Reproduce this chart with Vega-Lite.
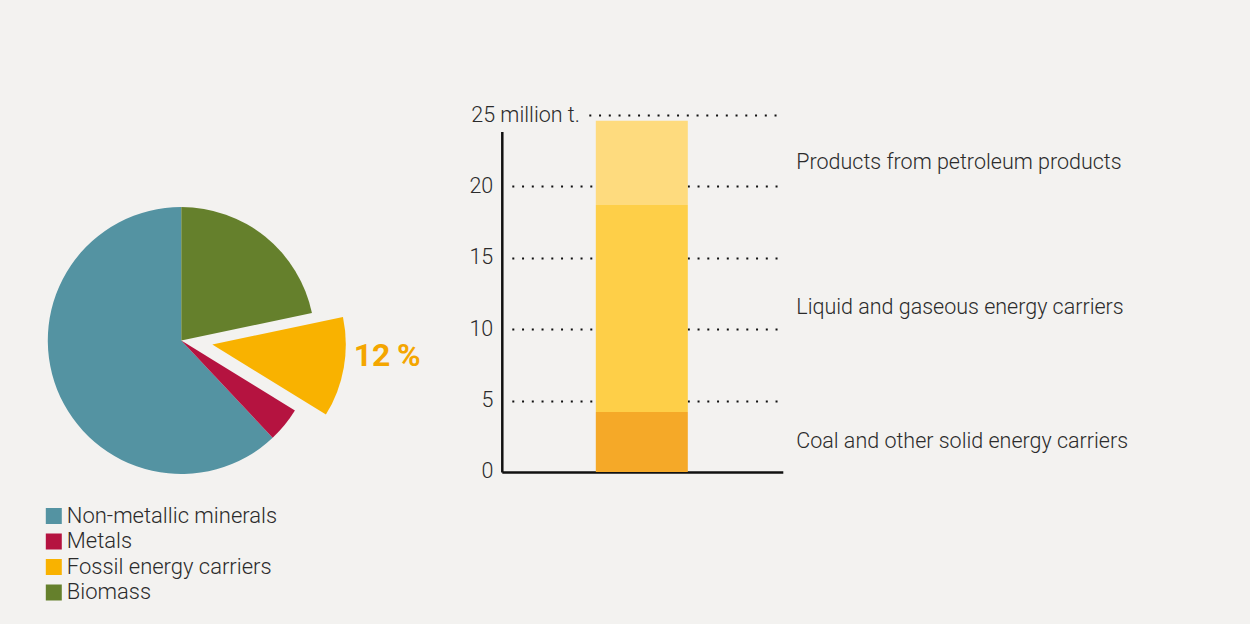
{
  "$schema": "https://vega.github.io/schema/vega-lite/v6.json",
  "background": "#f3f2f0",
  "padding": {"left": 17.8, "top": 104, "right": 0, "bottom": 26},
  "bounds": "flush",
  "spacing": 180,
  "config": {"view": {"stroke": null}, "font": "Roboto"},
  "resolve": {"scale": {"color": "independent"}, "legend": {"color": "independent"}},
  "hconcat": [
    {
      "width": 281,
      "height": 451,
      "data": {"values": [
        {"category": "Non-metallic minerals", "share": 62.0},
        {"category": "Metals", "share": 4.2},
        {"category": "Fossil energy carriers", "share": 12.1},
        {"category": "Biomass", "share": 21.7}
      ]},
      "encoding": {
        "theta": {"field": "share", "type": "quantitative", "stack": true},
        "order": {"field": "category", "type": "nominal", "sort": "ascending"}
      },
      "layer": [
        {
          "mark": {"type": "arc", "radius": 133.5},
          "encoding": {
            "color": {
              "field": "category", "type": "nominal",
              "scale": {"domain": ["Non-metallic minerals", "Metals", "Fossil energy carriers", "Biomass"], "range": ["#5493a2", "#b51340", "#f9b200", "#65802c"]},
              "legend": {"title": null, "orient": "none", "legendX": 2, "legendY": 390, "direction": "vertical", "symbolType": "square", "symbolSize": 256, "symbolStrokeWidth": 0, "labelFontSize": 22, "labelFont": "Roboto", "labelFontWeight": 300, "labelColor": "#2b2b2b", "labelOffset": 2, "rowPadding": 3.5, "padding": 0, "labelLimit": 400}
            },
            "opacity": {"condition": {"test": "datum.category === 'Fossil energy carriers'", "value": 0}, "value": 1}
          }
        },
        {
          "mark": {"type": "arc", "radius": 133.5, "xOffset": 31, "yOffset": 4},
          "encoding": {
            "color": {"field": "category", "type": "nominal"},
            "opacity": {"condition": {"test": "datum.category === 'Fossil energy carriers'", "value": 1}, "value": 0}
          }
        },
        {
          "mark": {"type": "text", "radius": 175, "align": "left", "baseline": "middle", "dy": -15, "font": "Roboto", "fontSize": 32, "fontWeight": "bold", "color": "#f4a600",
            "text": {"expr": "datum.category === 'Fossil energy carriers' ? format(datum.share, '.0f') + '\u2009%' : ''"}}
        }
      ]
    },
    {
      "width": 749,
      "height": 357,
      "data": {"values": [
        {"group": "Fossil energy carriers", "part": "Coal and other solid energy carriers", "value": 4.2},
        {"group": "Fossil energy carriers", "part": "Liquid and gaseous energy carriers", "value": 14.5},
        {"group": "Fossil energy carriers", "part": "Products from petroleum products", "value": 5.9}
      ]},
      "layer": [
        {
          "mark": {"type": "bar", "width": 92},
          "encoding": {
            "x": {"field": "group", "type": "nominal",
              "scale": {"type": "band", "paddingInner": 0, "paddingOuter": 1, "align": 0.0304},
              "axis": {"title": null, "labels": false, "ticks": false, "domain": true, "domainColor": "#111111", "domainWidth": 2.5, "domainDash": [281, 2000], "grid": false}},
            "y": {"field": "value", "type": "quantitative", "stack": "zero",
              "scale": {"domain": [0, 25], "nice": false},
              "axis": {
                "title": null,
                "values": [0, 5, 10, 15, 20, 25],
                "labelExpr": "datum.value == 25 ? '25 million t.' : datum.label",
                "labelAlign": {"condition": {"test": "datum.value == 25", "value": "left"}, "value": "right"},
                "labelPadding": {"condition": {"test": "datum.value == 25", "value": 31}, "value": 9},
                "labelFontSize": 21.5, "labelFont": "Roboto", "labelFontWeight": 300, "labelColor": "#2b2b2b", "labelBaseline": "middle",
                "labelFlush": false, "labelOverlap": false, "labelBound": false,
                "ticks": false, "tickSize": 0,
                "domain": true, "domainColor": "#111111", "domainWidth": 2.5, "domainDash": [340.5, 2000],
                "grid": true, "gridColor": "#111111", "gridWidth": 2, "gridCap": "butt",
                "gridDash": {
                  "condition": {"test": "datum.value == 25", "value": [0, 87, 2, 7.75, 2, 7.75, 2, 7.75, 2, 7.75, 2, 7.75, 2, 7.75, 2, 7.75, 2, 7.75, 2, 7.75, 2, 7.75, 2, 7.75, 2, 7.75, 2, 7.75, 2, 7.75, 2, 7.75, 2, 7.75, 2, 7.75, 2, 7.75, 2, 7.75, 2, 2000]},
                  "value": [0, 10, 2, 7.75, 2, 7.75, 2, 7.75, 2, 7.75, 2, 7.75, 2, 7.75, 2, 7.75, 2, 7.75, 2, 7.75, 2, 7.75, 2, 7.75, 2, 7.75, 2, 7.75, 2, 7.75, 2, 7.75, 2, 7.75, 2, 7.75, 2, 7.75, 2, 7.75, 2, 7.75, 2, 7.75, 2, 7.75, 2, 7.75, 2, 7.75, 2, 7.75, 2, 7.75, 2, 7.75, 2, 2000]
                },
                "gridOpacity": {"condition": {"test": "datum.value == 0", "value": 0}, "value": 1}
              }},
            "color": {"field": "part", "type": "nominal",
              "scale": {"domain": ["Coal and other solid energy carriers", "Liquid and gaseous energy carriers", "Products from petroleum products"], "range": ["#f5a928", "#fecf48", "#fedb7e"]},
              "legend": null},
            "order": {"field": "part", "type": "nominal", "sort": "ascending"}
          }
        },
        {
          "transform": [
            {"stack": "value", "groupby": ["group"], "sort": [{"field": "part", "order": "ascending"}], "as": ["lo", "hi"]},
            {"fold": ["lo", "hi"], "as": ["end", "pos"]}
          ],
          "mark": {"type": "text", "align": "left", "baseline": "middle", "dx": -80, "font": "Roboto", "fontSize": 21.5, "fontWeight": 300, "color": "#2b2b2b"},
          "encoding": {
            "y": {"field": "pos", "type": "quantitative", "aggregate": "mean", "stack": null},
            "text": {"field": "part", "type": "nominal"}
          }
        }
      ]
    }
  ]
}
